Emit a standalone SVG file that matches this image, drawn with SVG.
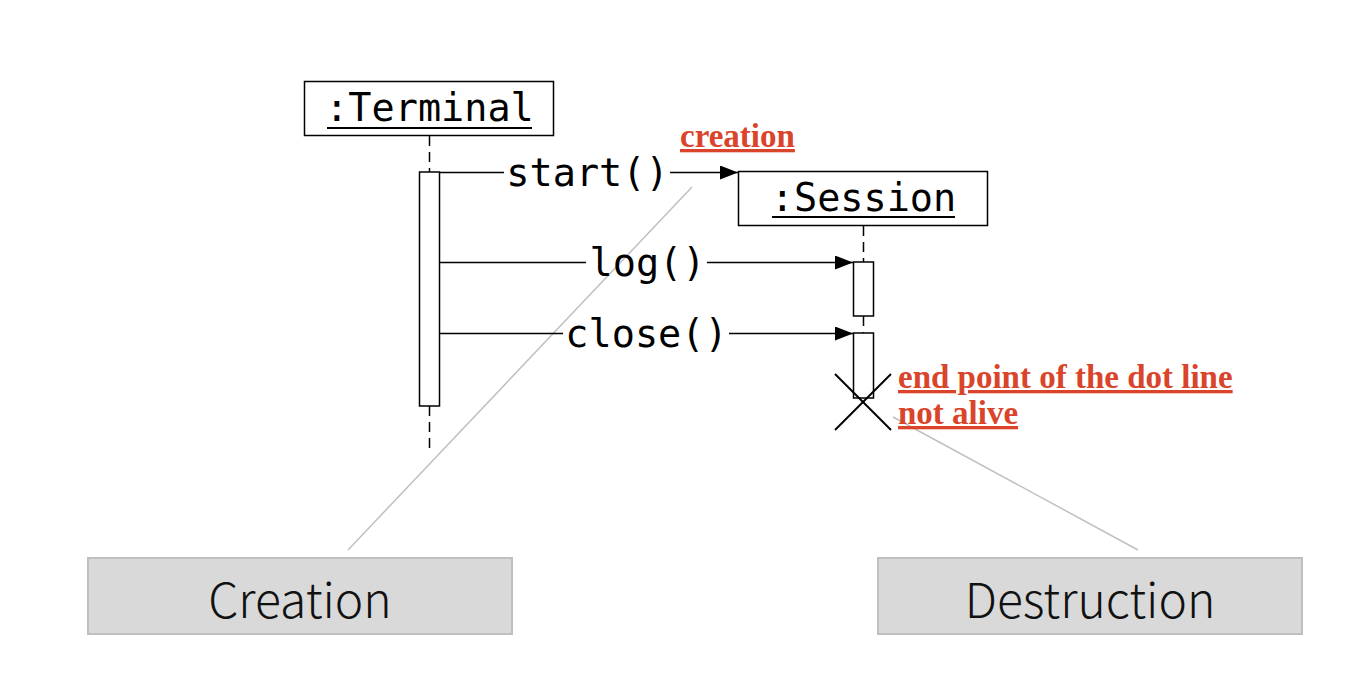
<svg xmlns="http://www.w3.org/2000/svg" width="1360" height="680" viewBox="0 0 1360 680">
<style>
.box{fill:#fff;stroke:#000;stroke-width:1.5}
.act{fill:#fff;stroke:#000;stroke-width:1.5}
.life{stroke:#000;stroke-width:1.5;stroke-dasharray:10 6;fill:none}
.msg{stroke:#000;stroke-width:1.5;fill:none}
.mono{font-family:"DejaVu Sans Mono",monospace;font-size:38.5px;fill:#000}
.red{font-family:"Liberation Serif",serif;font-weight:bold;font-size:33px;fill:#d9442b;text-decoration:underline}
.grey{stroke:#c0c0c0;stroke-width:1.5;fill:none}
.note{fill:#d9d9d9;stroke:#bfbfbf;stroke-width:2}
.nt{font-family:"Noto Sans CJK JP","Noto Sans",sans-serif;font-weight:300;font-size:48px;fill:#111;text-anchor:middle}
</style>
<defs>
<marker id="ah" markerWidth="18" markerHeight="14" refX="18" refY="7" orient="auto" markerUnits="userSpaceOnUse">
<path d="M0,0 L18,7 L0,14 Z" fill="#000"/>
</marker>
</defs>
<g id="terminal">
<rect class="box" x="304.5" y="81.5" width="249" height="54"/>
<text class="mono" x="429.5" y="121" text-anchor="middle">:Terminal</text>
<line x1="327" y1="128" x2="532" y2="128" stroke="#000" stroke-width="2"/>
<line class="life" x1="429.5" y1="136" x2="429.5" y2="172"/>
<rect class="act" x="419.5" y="172" width="20" height="234"/>
<line class="life" x1="429.5" y1="406" x2="429.5" y2="452"/>
</g>
<g id="session">
<rect class="box" x="738.5" y="171.5" width="249" height="54"/>
<text class="mono" x="863.5" y="211" text-anchor="middle">:Session</text>
<line x1="772" y1="217" x2="955" y2="217" stroke="#000" stroke-width="2"/>
<line class="life" x1="863.5" y1="226" x2="863.5" y2="262"/>
<rect class="act" x="853.5" y="262" width="20" height="54"/>
<line class="life" x1="863.5" y1="316" x2="863.5" y2="333"/>
<rect class="act" x="853.5" y="333" width="20" height="65"/>
</g>
<g id="destroy">
<line x1="835" y1="374" x2="891" y2="430" stroke="#000" stroke-width="2"/>
<line x1="891" y1="374" x2="835" y2="430" stroke="#000" stroke-width="2"/>
</g>
<g id="connectors">
<line class="grey" x1="692" y1="187" x2="348" y2="550"/>
<line class="grey" x1="893" y1="417" x2="1138" y2="550"/>
<line class="msg" x1="439.5" y1="172.5" x2="504" y2="172.5"/>
<line class="msg" x1="670" y1="172.5" x2="738" y2="172.5" marker-end="url(#ah)"/>
<line class="msg" x1="439.5" y1="262.5" x2="586" y2="262.5"/>
<line class="msg" x1="707" y1="262.5" x2="853" y2="262.5" marker-end="url(#ah)"/>
<line class="msg" x1="439.5" y1="333.5" x2="563" y2="333.5"/>
<line class="msg" x1="729" y1="333.5" x2="853" y2="333.5" marker-end="url(#ah)"/>
<text class="mono" x="587.5" y="186" text-anchor="middle">start()</text>
<text class="mono" x="647.5" y="276" text-anchor="middle">log()</text>
<text class="mono" x="646.5" y="347" text-anchor="middle">close()</text>
</g>
<g id="labels">
<text class="red" x="680" y="147">creation</text>
<text class="red" x="898" y="388">end point of the dot line</text>
<text class="red" x="898" y="424">not alive</text>
</g>
<g id="creation">
<rect class="note" x="88" y="558" width="424" height="76"/>
<text class="nt" x="300" y="618">Creation</text>
</g>
<g id="destruction">
<rect class="note" x="878" y="558" width="424" height="76"/>
<text class="nt" x="1090" y="618">Destruction</text>
</g>
</svg>
